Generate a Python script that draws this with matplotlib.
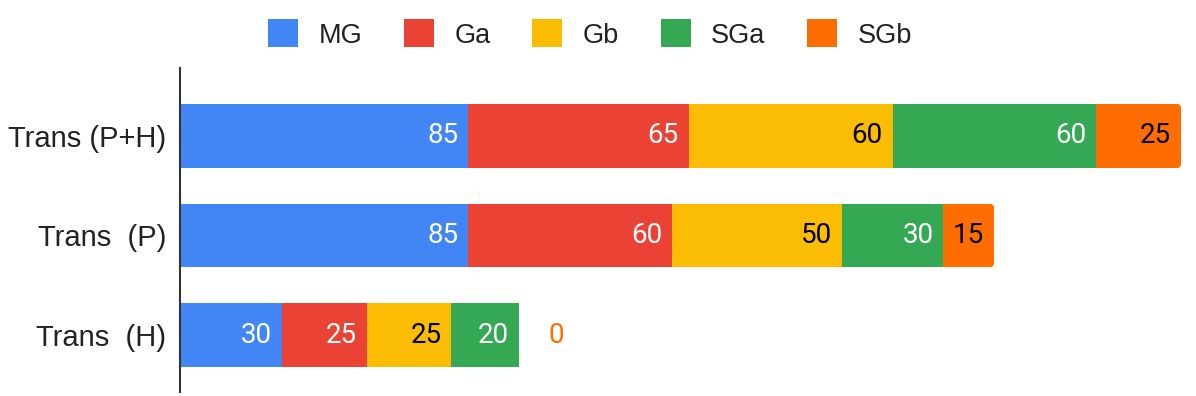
import matplotlib
matplotlib.use("Agg")
import matplotlib.pyplot as plt
from matplotlib.patches import FancyBboxPatch, Patch
from matplotlib.transforms import IdentityTransform

plt.rcParams['font.family'] = ['Liberation Sans', 'DejaVu Sans']

categories = ["Trans (P+H)", "Trans  (P)", "Trans  (H)"]
series_names = ["MG", "Ga", "Gb", "SGa", "SGb"]
MG = [85, 85, 30]
Ga = [65, 60, 25]
Gb = [60, 50, 25]
SGa = [60, 30, 20]
SGb = [25, 15, 0]
values = [MG, Ga, Gb, SGa, SGb]
colors = ["#4285F4", "#EA4335", "#FBBC04", "#34A853", "#FF6D01"]
label_colors = ["white", "white", "black", "white", "black"]

W, H = 1196, 396
fig = plt.figure(figsize=(W / 100, H / 100), dpi=100)
ax_left, ax_right = 180, 1181
ax_top, ax_bot = 68, 392
ax = fig.add_axes([ax_left / W, 1 - ax_bot / H, (ax_right - ax_left) / W, (ax_bot - ax_top) / H])

ypos = list(range(len(categories)))
left = [0] * len(categories)
bar_h = 0.64
all_bars = []
for i, (name, vals, col) in enumerate(zip(series_names, values, colors)):
    bars = ax.barh(ypos, vals, left=left, height=bar_h, color=col, label=name, linewidth=0)
    all_bars.append(bars)
    left = [l + v for l, v in zip(left, vals)]

totals = left
ax.set_xlim(0, max(totals))
ax.set_ylim(len(categories) - 1 + 0.57, -0.68)

px_per_x = (ax_right - ax_left) / max(totals)

for i, (vals, bars) in enumerate(zip(values, all_bars)):
    for j, (v, rect) in enumerate(zip(vals, bars)):
        x_end = rect.get_x() + rect.get_width()
        yc = rect.get_y() + rect.get_height() / 2
        if v == 0:
            ax.text(x_end + 29 / px_per_x, yc, str(v), ha='left', va='center',
                    fontsize=20, color=colors[i], family='Roboto')
        else:
            ax.text(x_end - 10 / px_per_x, yc, str(v), ha='right', va='center',
                    fontsize=20, color=label_colors[i], family='Roboto')

# rounded right corners for the last series segment (drawn in pixel space)
r = 4
last = len(series_names) - 1
for j in range(len(categories)):
    if values[last][j] <= 0:
        continue
    rect = all_bars[last][j]
    x0, y0, w, h = rect.get_x(), rect.get_y(), rect.get_width(), rect.get_height()
    (px0, py0), (px1, py1) = ax.transData.transform([(x0, y0), (x0 + w, y0 + h)])
    pxl, pxr = round(min(px0, px1)), round(max(px0, px1))
    pyb, pyt = round(min(py0, py1)), round(max(py0, py1))
    fb = FancyBboxPatch((pxl, pyb), pxr - pxl, pyt - pyb,
                        boxstyle=f"round,pad=0,rounding_size={r}",
                        transform=IdentityTransform(),
                        facecolor=colors[last], linewidth=0, zorder=rect.get_zorder())
    ax.add_patch(fb)
    rect.set_width(w / 2)

ax.set_yticks(ypos)
ax.set_yticklabels(categories, fontsize=21, color="#222222")
ax.tick_params(axis='y', length=0, pad=10)
ax.set_xticks([])
for s in ['top', 'right', 'bottom']:
    ax.spines[s].set_visible(False)
ax.spines['left'].set_color('#333333')
ax.spines['left'].set_linewidth(1.5)
ax.spines['left'].set_zorder(5)

handles = [Patch(facecolor=c, label=n) for c, n in zip(colors, series_names)]
fig.legend(handles=handles, loc='center', bbox_to_anchor=(590 / W, 1 - 34 / H), ncol=5,
           frameon=False, fontsize=19.5, handlelength=1.1, handleheight=1.2,
           columnspacing=1.55, handletextpad=0.75, labelcolor="#222222")

fig.savefig("out.png", dpi=100)
